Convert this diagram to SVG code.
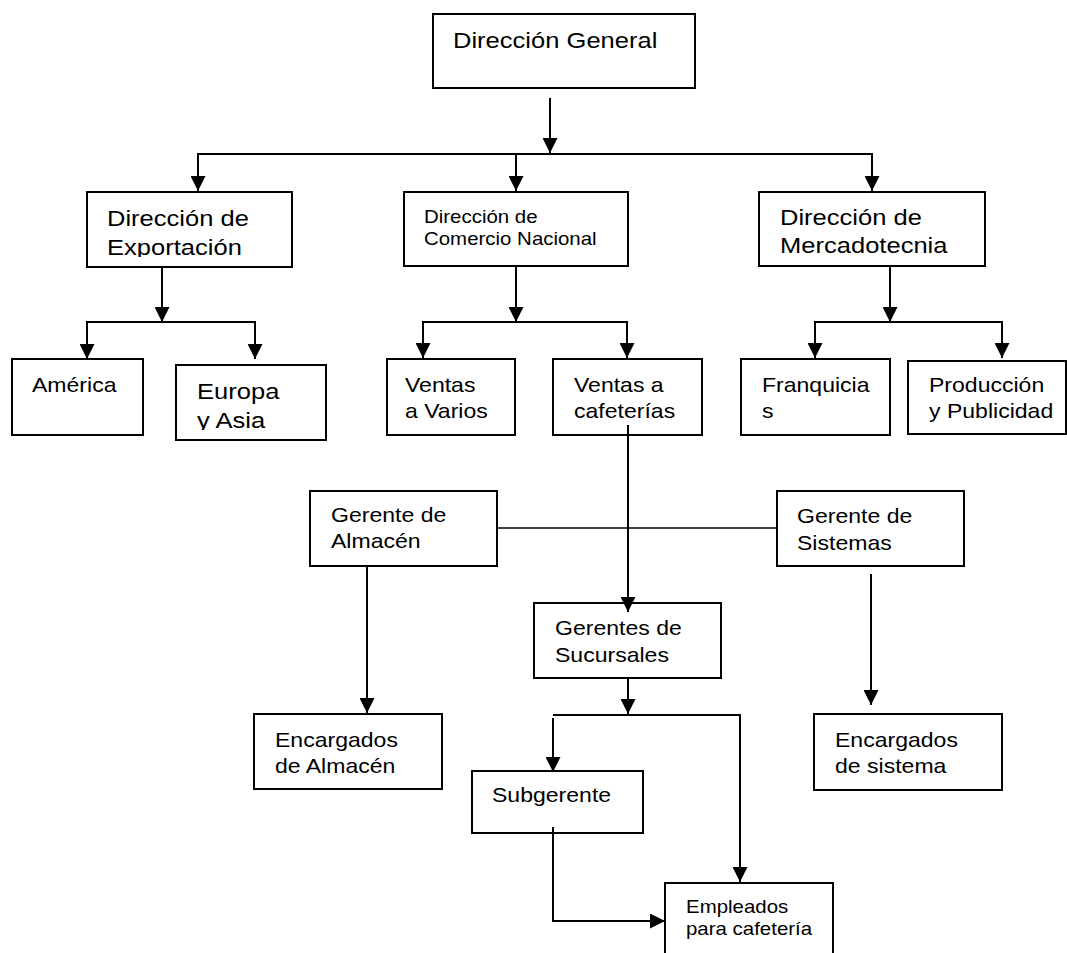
<svg xmlns="http://www.w3.org/2000/svg" width="1067" height="953" viewBox="0 0 1067 953">
  <style>
    .box { fill: #ffffff; stroke: #000000; stroke-width: 2; }
    .ln { fill: none; stroke: #000000; stroke-width: 2; }
    .thin { fill: none; stroke: #000000; stroke-width: 1.6; }
    text { font-family: "Liberation Sans", Arial, sans-serif; fill: #000000; }
    .big { font-size: 22.6px; }
    .mid { font-size: 20.4px; }
    .sml { font-size: 18.1px; }
  </style>
  <defs>
    <marker id="arrow" markerUnits="userSpaceOnUse" markerWidth="15" markerHeight="15" refX="15" refY="7.5" orient="auto" viewBox="0 0 15 15">
      <path d="M0,0 L15,7.5 L0,15 z" fill="#000000"/>
    </marker>
    <!-- the last line of these two boxes is cut by the box's inner margin -->
    <clipPath id="clipExport"><rect x="87" y="192" width="205" height="65"/></clipPath>
    <clipPath id="clipEuropa"><rect x="176" y="365" width="150" height="65"/></clipPath>
  </defs>
  <rect width="1067" height="953" fill="#ffffff"/>

  <g id="direccion-general">
    <rect class="box" x="433" y="14" width="262" height="74"/>
    <text class="big" transform="translate(453,48) scale(1.13,1)">Dirección General</text>
  </g>

  <g id="direccion-exportacion">
    <rect class="box" x="87" y="192" width="205" height="75"/>
    <g clip-path="url(#clipExport)">
      <text class="big" transform="translate(107,226) scale(1.13,1)"><tspan x="0" y="0">Dirección de</tspan><tspan x="0" y="29">Exportación</tspan></text>
    </g>
  </g>

  <g id="direccion-comercio">
    <rect class="box" x="404" y="192" width="224" height="74"/>
    <text class="sml" transform="translate(424,223) scale(1.13,1)"><tspan x="0" y="0">Dirección de</tspan><tspan x="0" y="22">Comercio Nacional</tspan></text>
  </g>

  <g id="direccion-mercadotecnia">
    <rect class="box" x="759" y="192" width="226" height="74"/>
    <text class="big" transform="translate(780,225) scale(1.13,1)"><tspan x="0" y="0">Dirección de</tspan><tspan x="0" y="28">Mercadotecnia</tspan></text>
  </g>

  <g id="america">
    <rect class="box" x="12" y="359" width="131" height="76"/>
    <text class="mid" transform="translate(32,392) scale(1.13,1)">América</text>
  </g>

  <g id="europa-asia">
    <rect class="box" x="176" y="365" width="150" height="75"/>
    <g clip-path="url(#clipEuropa)">
      <text class="big" transform="translate(197,399) scale(1.13,1)"><tspan x="0" y="0">Europa</tspan><tspan x="0" y="29">y Asia</tspan></text>
    </g>
  </g>

  <g id="ventas-varios">
    <rect class="box" x="387" y="359" width="128" height="76"/>
    <text class="mid" transform="translate(405,392) scale(1.13,1)"><tspan x="0" y="0">Ventas</tspan><tspan x="0" y="26">a Varios</tspan></text>
  </g>

  <g id="ventas-cafeterias">
    <rect class="box" x="553" y="359" width="149" height="76"/>
    <text class="mid" transform="translate(574,392) scale(1.13,1)"><tspan x="0" y="0">Ventas a</tspan><tspan x="0" y="26">cafeterías</tspan></text>
  </g>

  <g id="franquicias">
    <rect class="box" x="741" y="359" width="149" height="76"/>
    <text class="mid" transform="translate(762,392) scale(1.13,1)"><tspan x="0" y="0">Franquicia</tspan><tspan x="0" y="26">s</tspan></text>
  </g>

  <g id="produccion-publicidad">
    <rect class="box" x="908" y="361" width="158" height="73"/>
    <text class="mid" transform="translate(929,392) scale(1.13,1)"><tspan x="0" y="0">Producción</tspan><tspan x="0" y="26">y Publicidad</tspan></text>
  </g>

  <g id="gerente-almacen">
    <rect class="box" x="310" y="491" width="187" height="75"/>
    <text class="mid" transform="translate(331,522) scale(1.13,1)"><tspan x="0" y="0">Gerente de</tspan><tspan x="0" y="26">Almacén</tspan></text>
  </g>

  <g id="gerente-sistemas">
    <rect class="box" x="777" y="491" width="187" height="75"/>
    <text class="mid" transform="translate(797,523) scale(1.13,1)"><tspan x="0" y="0">Gerente de</tspan><tspan x="0" y="27">Sistemas</tspan></text>
  </g>

  <g id="gerentes-sucursales">
    <rect class="box" x="534" y="603" width="187" height="75"/>
    <text class="mid" transform="translate(555,635) scale(1.13,1)"><tspan x="0" y="0">Gerentes de</tspan><tspan x="0" y="27">Sucursales</tspan></text>
  </g>

  <g id="encargados-almacen">
    <rect class="box" x="254" y="714" width="188" height="75"/>
    <text class="mid" transform="translate(275,747) scale(1.13,1)"><tspan x="0" y="0">Encargados</tspan><tspan x="0" y="26">de Almacén</tspan></text>
  </g>

  <g id="encargados-sistema">
    <rect class="box" x="814" y="714" width="188" height="76"/>
    <text class="mid" transform="translate(835,747) scale(1.13,1)"><tspan x="0" y="0">Encargados</tspan><tspan x="0" y="26">de sistema</tspan></text>
  </g>

  <g id="subgerente">
    <rect class="box" x="472" y="771" width="171" height="62"/>
    <text class="mid" transform="translate(492,802) scale(1.13,1)">Subgerente</text>
  </g>

  <g id="empleados-cafeteria">
    <rect class="box" x="665" y="883" width="168" height="80"/>
    <text class="sml" transform="translate(686,913) scale(1.13,1)"><tspan x="0" y="0">Empleados</tspan><tspan x="0" y="22">para cafetería</tspan></text>
  </g>

  <!-- connectors are drawn over the boxes: some start inside a box or end on its border -->
  <g id="connectors">
    <line class="ln" x1="550" y1="98" x2="550" y2="153" marker-end="url(#arrow)"/>
    <line class="ln" x1="197" y1="154" x2="873" y2="154"/>
    <line class="ln" x1="198" y1="154" x2="198" y2="191" marker-end="url(#arrow)"/>
    <line class="ln" x1="516" y1="154" x2="516" y2="191" marker-end="url(#arrow)"/>
    <line class="ln" x1="872" y1="154" x2="872" y2="191" marker-end="url(#arrow)"/>

    <line class="ln" x1="162" y1="268" x2="162" y2="322" marker-end="url(#arrow)"/>
    <line class="ln" x1="86" y1="322" x2="256" y2="322"/>
    <line class="ln" x1="87" y1="322" x2="87" y2="359" marker-end="url(#arrow)"/>
    <line class="ln" x1="255" y1="322" x2="255" y2="359" marker-end="url(#arrow)"/>

    <line class="ln" x1="516" y1="267" x2="516" y2="322" marker-end="url(#arrow)"/>
    <line class="ln" x1="422" y1="322" x2="628" y2="322"/>
    <line class="ln" x1="423" y1="322" x2="423" y2="358" marker-end="url(#arrow)"/>
    <line class="ln" x1="627" y1="322" x2="627" y2="358" marker-end="url(#arrow)"/>

    <line class="ln" x1="890" y1="267" x2="890" y2="322" marker-end="url(#arrow)"/>
    <line class="ln" x1="814" y1="322" x2="1003" y2="322"/>
    <line class="ln" x1="815" y1="322" x2="815" y2="358" marker-end="url(#arrow)"/>
    <line class="ln" x1="1002" y1="322" x2="1002" y2="358" marker-end="url(#arrow)"/>

    <line class="thin" x1="498" y1="528" x2="776" y2="528"/>
    <line class="ln" x1="628" y1="425" x2="628" y2="612" marker-end="url(#arrow)"/>
    <line class="ln" x1="367" y1="567" x2="367" y2="713" marker-end="url(#arrow)"/>
    <line class="ln" x1="871" y1="574" x2="871" y2="705" marker-end="url(#arrow)"/>

    <line class="ln" x1="628" y1="679" x2="628" y2="714" marker-end="url(#arrow)"/>
    <polyline class="ln" points="553,715 740,715 740,882" marker-end="url(#arrow)"/>
    <line class="ln" x1="553" y1="718" x2="553" y2="772" marker-end="url(#arrow)"/>
    <polyline class="ln" points="553,827 553,921 665,921" marker-end="url(#arrow)"/>
  </g>
</svg>
